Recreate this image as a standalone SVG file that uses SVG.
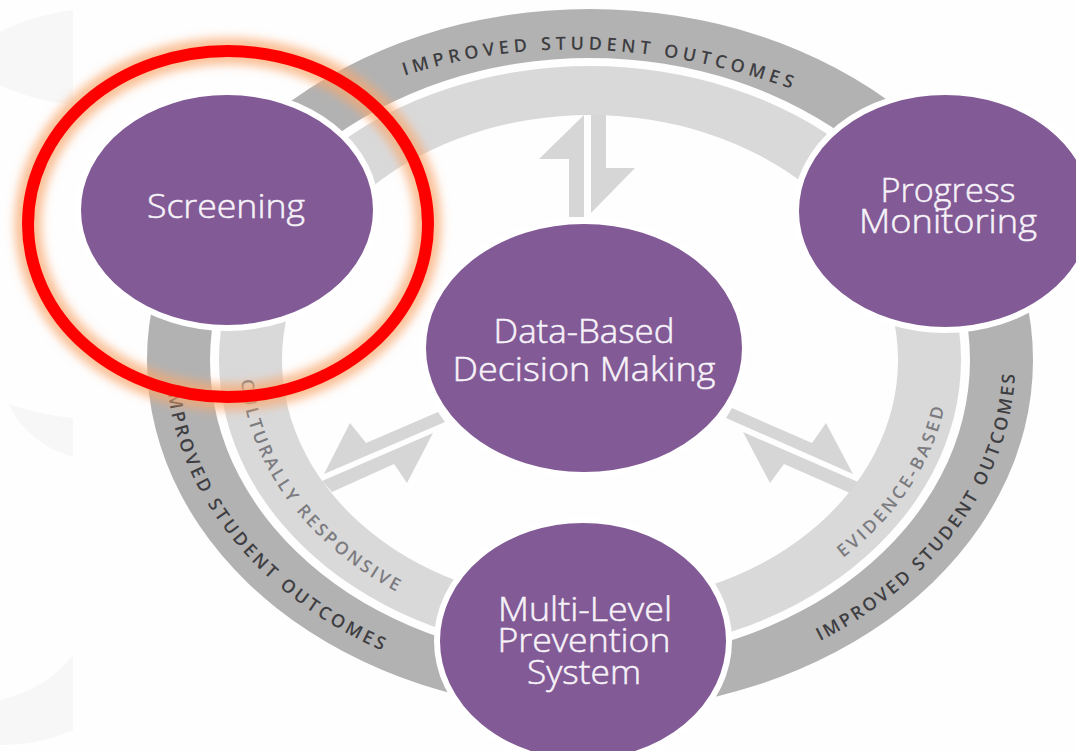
<svg xmlns="http://www.w3.org/2000/svg" width="1076" height="751" viewBox="0 0 1076 751">
<style>
.node{fill:#825a96;stroke:#fff;stroke-width:6}
.nt{font-family:"Open Sans","Liberation Sans",sans-serif;font-weight:300;font-size:33px;fill:#f6f2f8;text-anchor:middle;stroke:#f6f2f8;stroke-width:.5}
.out{fill:#b2b2b2;fill-rule:evenodd}
.inn{fill:#d9d9da;fill-rule:evenodd}
.arr{fill:#d6d6d7}
.bt{font-family:"Open Sans","Liberation Sans",sans-serif;font-weight:600;font-size:18px;fill:#3e3e42}
.lt{font-family:"Open Sans","Liberation Sans",sans-serif;font-weight:600;font-size:17.5px;fill:#7b7b80}
.bg{fill:#f7f7f7}
</style>
<defs>
<filter id="glow" x="-20%" y="-20%" width="140%" height="140%"><feGaussianBlur stdDeviation="5"/></filter>
<path id="p1" d="M395 79Q590 12 814 97"/>
<path id="p2" d="M167.2 385A424 334 0 0 0 385 652"/>
<path id="p3" d="M820 641A425 334 0 0 0 1015 375"/>
<path id="p4" d="M241 380A350 278 0 0 0 400 593.5"/>
<path id="p5" d="M843 558A360 278 0 0 0 945 405"/>
</defs>
<rect width="1076" height="751" fill="#fefefe"/>
<g id="backdrop">
<path class="bg" d="M0 32Q30 16 73 10V105Q30 100 0 85Z"/>
<path class="bg" d="M8 404Q40 415 73 418V457Q30 445 8 404Z"/>
<path class="bg" d="M73 655Q45 690 0 700V745Q40 745 73 730Z"/>
</g>
<g id="rings">
<path class="out" d="M147 360A443 351 0 1 1 1033 360A443 351 0 1 1 147 360ZM210 360A380 302 0 1 0 970 360A380 302 0 1 0 210 360Z"/>
<path class="inn" d="M219 360A371 294 0 1 1 961 360A371 294 0 1 1 219 360ZM282 360A308 245 0 1 0 898 360A308 245 0 1 0 282 360Z"/>
</g>
<g id="connectors">
<path class="arr" d="M539 159H569V217H584V115Z"/>
<path class="arr" d="M591 115H606V168H635L591 213Z"/>
<path class="arr" d="M438 412L445 422L324 474L350 423L366 443Z"/>
<path class="arr" d="M433 433L407 483L394 464L332 492L322 481Z"/>
<path class="arr" d="M732 408L726 418L853 474L826 423L812 443Z"/>
<path class="arr" d="M743 432L770 483L784 464L850 493L858 482Z"/>
</g>
<g id="ring-labels">
<text class="bt" letter-spacing="4.6"><textPath href="#p1" startOffset="10">IMPROVED STUDENT OUTCOMES</textPath></text>
<text class="bt" letter-spacing="3.1"><textPath href="#p2">IMPROVED STUDENT OUTCOMES</textPath></text>
<text class="bt" letter-spacing="2.6"><textPath href="#p3">IMPROVED STUDENT OUTCOMES</textPath></text>
<text class="lt" letter-spacing="2.8"><textPath href="#p4">CULTURALLY RESPONSIVE</textPath></text>
<text class="lt" letter-spacing="3.1"><textPath href="#p5">EVIDENCE-BASED</textPath></text>
</g>
<g id="screening">
<ellipse class="node" cx="227" cy="210" rx="149" ry="118"/>
<text class="nt" x="226" y="218" textLength="158" lengthAdjust="spacingAndGlyphs">Screening</text>
</g>
<g id="progress-monitoring">
<ellipse class="node" cx="945" cy="211" rx="149" ry="119"/>
<text class="nt" x="948" y="202" textLength="135" lengthAdjust="spacingAndGlyphs">Progress</text>
<text class="nt" x="948" y="233" textLength="178" lengthAdjust="spacingAndGlyphs">Monitoring</text>
</g>
<g id="data-based-decision-making">
<ellipse class="node" cx="584" cy="348" rx="161" ry="127"/>
<text class="nt" x="584" y="343" textLength="181" lengthAdjust="spacingAndGlyphs">Data-Based</text>
<text class="nt" x="584" y="381" textLength="263" lengthAdjust="spacingAndGlyphs">Decision Making</text>
</g>
<g id="multi-level-prevention-system">
<ellipse class="node" cx="583" cy="641" rx="146" ry="121"/>
<text class="nt" x="585" y="621" textLength="174" lengthAdjust="spacingAndGlyphs">Multi-Level</text>
<text class="nt" x="584" y="652" textLength="173" lengthAdjust="spacingAndGlyphs">Prevention</text>
<text class="nt" x="584" y="684" textLength="114" lengthAdjust="spacingAndGlyphs">System</text>
</g>
<g id="highlight" fill="none">
<ellipse cx="228" cy="224" rx="200" ry="173" stroke="#f9a66c" stroke-opacity=".7" stroke-width="27" filter="url(#glow)"/>
<ellipse cx="228" cy="224" rx="200" ry="173" stroke="#ff0000" stroke-width="12"/>
</g>
</svg>
